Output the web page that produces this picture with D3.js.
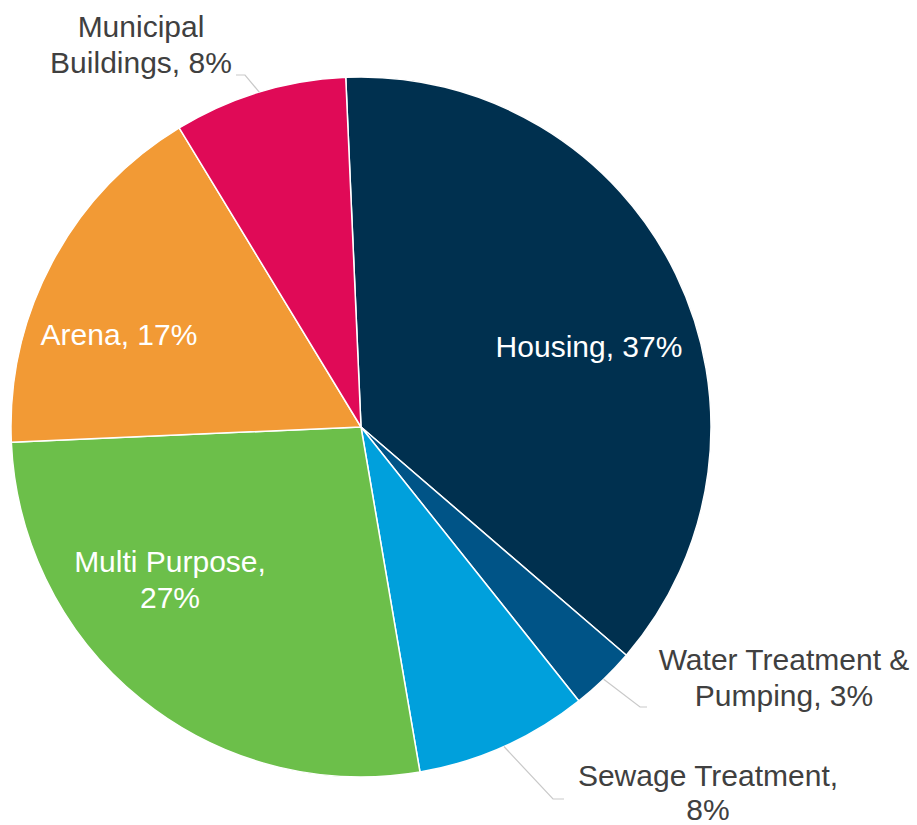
<!DOCTYPE html>
<html>
<head>
<meta charset="utf-8">
<script src="https://cdn.jsdelivr.net/npm/d3@7/dist/d3.min.js"></script>
<style>
  html, body { margin: 0; padding: 0; background: #fff; }
  svg { display: block; }
  text { font-family: "Liberation Sans", Arial, sans-serif; font-size: 30px; }
</style>
</head>
<body>
<svg id="chart" width="917" height="825"></svg>
<script>
// Capital spending by project category (percent of total)
const categories = ["Housing", "Water Treatment & Pumping", "Sewage Treatment", "Multi Purpose", "Arena", "Municipal Buildings"];
const shares = [37, 3, 8, 27, 17, 8];
const sliceColors = ["#00304f", "#005487", "#00a0dc", "#6cbf4a", "#f29a35", "#e00a57"];

// Label text lines per category
const labelLines = [
  ["Housing, 37%"],
  ["Water Treatment &", "Pumping, 3%"],
  ["Sewage Treatment,", "8%"],
  ["Multi Purpose,", "27%"],
  ["Arena, 17%"],
  ["Municipal", "Buildings, 8%"]
];

// Layout: label anchor (centre x, first baseline y), text colour, optional leader elbow/end
const labelLayout = [
  { x: 589, y: 357, fill: "#ffffff", gap: 36 },
  { x: 784, y: 670, fill: "#404040", gap: 36, elbow: [640, 707], end: [647, 707] },
  { x: 708, y: 786, fill: "#404040", gap: 34, elbow: [553, 799], end: [564, 799] },
  { x: 170, y: 572, fill: "#ffffff", gap: 36 },
  { x: 119, y: 345, fill: "#ffffff", gap: 36 },
  { x: 141, y: 37, fill: "#404040", gap: 36, elbow: [245, 75], end: [236, 75] }
];

const cx = 361, cy = 427, radius = 350;
const startAngle = -2.5 * Math.PI / 180;

const data = categories.map((c, i) => ({ name: c, value: shares[i], i }));

const pie = d3.pie().value(d => d.value).sort(null)
  .startAngle(startAngle).endAngle(startAngle + 2 * Math.PI);
const arc = d3.arc().innerRadius(0).outerRadius(radius);

const svg = d3.select("#chart");
const g = svg.append("g").attr("transform", `translate(${cx},${cy})`);

const arcs = pie(data);

g.selectAll("path.slice")
  .data(arcs)
  .join("path")
  .attr("class", "slice")
  .attr("d", arc)
  .attr("fill", d => sliceColors[d.data.i])
  .attr("stroke", "#ffffff")
  .attr("stroke-width", 1.5)
  .attr("stroke-linejoin", "round");

// Leader lines for the outside labels
arcs.forEach(d => {
  const L = labelLayout[d.data.i];
  if (!L.elbow) return;
  const mid = (d.startAngle + d.endAngle) / 2;
  const sx = cx + radius * Math.sin(mid), sy = cy - radius * Math.cos(mid);
  svg.append("polyline")
    .attr("points", [[sx, sy], L.elbow, L.end].map(p => p.join(",")).join(" "))
    .attr("fill", "none")
    .attr("stroke", "#c9c9c9")
    .attr("stroke-width", 1.2);
});

// Labels
const labels = svg.selectAll("text.label")
  .data(data)
  .join("text")
  .attr("class", "label")
  .attr("text-anchor", "middle")
  .attr("fill", d => labelLayout[d.i].fill)
  .attr("x", d => labelLayout[d.i].x)
  .attr("y", d => labelLayout[d.i].y);

labels.selectAll("tspan")
  .data(d => labelLines[d.i].map((t, k) => ({ t, k, x: labelLayout[d.i].x, gap: labelLayout[d.i].gap })))
  .join("tspan")
  .attr("x", d => d.x)
  .attr("dy", d => d.k === 0 ? 0 : d.gap)
  .text(d => d.t);
</script>
</body>
</html>
